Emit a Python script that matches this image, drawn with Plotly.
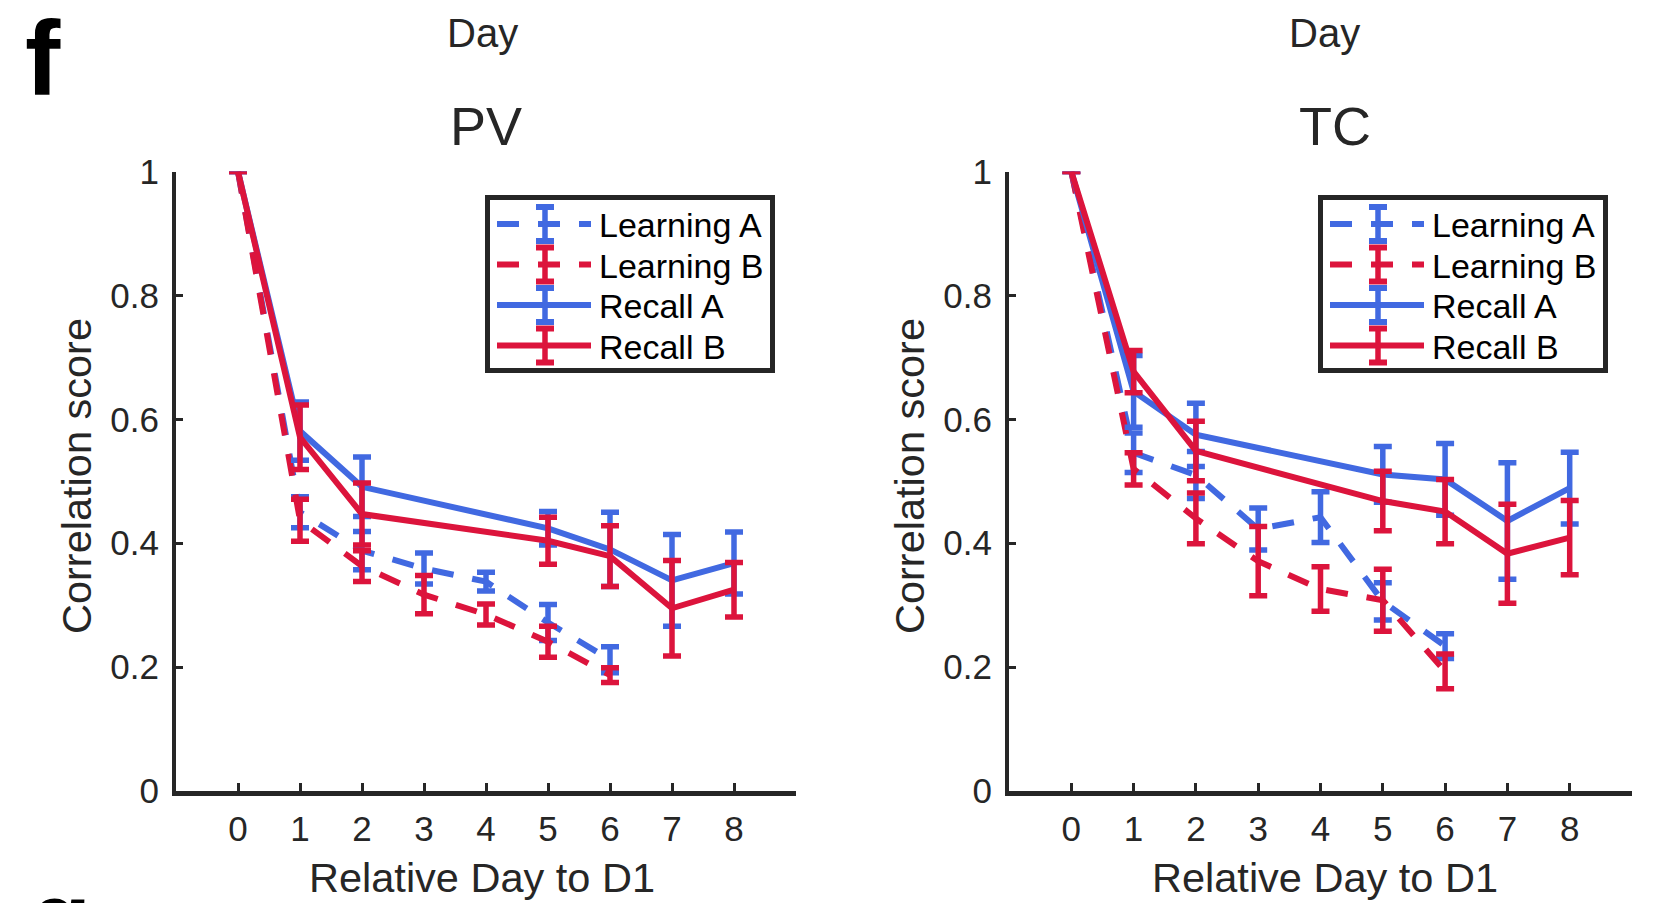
import plotly.graph_objects as go

W, H = 1660, 903

# ---------------- data ----------------
learn_days = [0, 1, 2, 3, 4, 5, 6]
recall_days = [0, 1, 2, 5, 6, 7, 8]
x_ticks = [0, 1, 2, 3, 4, 5, 6, 7, 8]
y_ticks = [0, 0.2, 0.4, 0.6, 0.8, 1]
y_ticktext = ["0", "0.2", "0.4", "0.6", "0.8", "1"]

series_names = ["Learning A", "Learning B", "Recall A", "Recall B"]
series_colors = ["#4169E1", "#DC143C", "#4169E1", "#DC143C"]
series_dash = ["22px,19px", "22px,19px", "solid", "solid"]

# PV
pv_learn_a = [1.0, 0.450, 0.388, 0.359, 0.338, 0.272, 0.212]
pv_learn_a_err = [0, 0.025, 0.031, 0.025, 0.015, 0.029, 0.021]
pv_learn_b = [1.0, 0.437, 0.363, 0.317, 0.285, 0.241, 0.187]
pv_learn_b_err = [0, 0.034, 0.025, 0.031, 0.017, 0.025, 0.012]
pv_recall_a = [1.0, 0.581, 0.491, 0.424, 0.390, 0.340, 0.368]
pv_recall_a_err = [0, 0.047, 0.048, 0.027, 0.060, 0.074, 0.050]
pv_recall_b = [1.0, 0.571, 0.447, 0.404, 0.379, 0.295, 0.325]
pv_recall_b_err = [0, 0.052, 0.050, 0.038, 0.049, 0.077, 0.044]

# TC
tc_learn_a = [1.0, 0.546, 0.510, 0.423, 0.442, 0.306, 0.234]
tc_learn_a_err = [0, 0.032, 0.038, 0.034, 0.041, 0.030, 0.020]
tc_learn_b = [1.0, 0.520, 0.440, 0.371, 0.326, 0.308, 0.193]
tc_learn_b_err = [0, 0.026, 0.041, 0.056, 0.036, 0.050, 0.028]
tc_recall_a = [1.0, 0.645, 0.575, 0.511, 0.503, 0.436, 0.489]
tc_recall_a_err = [0, 0.058, 0.051, 0.045, 0.058, 0.094, 0.058]
tc_recall_b = [1.0, 0.677, 0.549, 0.468, 0.451, 0.383, 0.409]
tc_recall_b_err = [0, 0.034, 0.048, 0.048, 0.052, 0.080, 0.060]

panel_titles = ["PV", "TC"]
panel_label = "f"

# ---------------- helpers ----------------
FONT = "Liberation Sans, Arial, Helvetica, sans-serif"
AX = "#262626"


def px_x(p):
    return p / W


def px_y(p):
    return 1 - p / H


# subplot geometry (px)
panels = [
    dict(left=176, right=796, xa="x", ya="y", xaxis="xaxis", yaxis="yaxis"),
    dict(left=1009, right=1632, xa="x2", ya="y2", xaxis="xaxis2", yaxis="yaxis2"),
]
TOP, BOTTOM = 171.5, 791

panel_data = [
    [(learn_days, pv_learn_a, pv_learn_a_err), (learn_days, pv_learn_b, pv_learn_b_err),
     (recall_days, pv_recall_a, pv_recall_a_err), (recall_days, pv_recall_b, pv_recall_b_err)],
    [(learn_days, tc_learn_a, tc_learn_a_err), (learn_days, tc_learn_b, tc_learn_b_err),
     (recall_days, tc_recall_a, tc_recall_a_err), (recall_days, tc_recall_b, tc_recall_b_err)],
]

fig = go.Figure()
for p, series in zip(panels, panel_data):
    for (xs, ys, es), name, col, dash in zip(series, series_names, series_colors, series_dash):
        fig.add_trace(go.Scatter(
            x=xs, y=ys, name=name, mode="lines",
            line=dict(color=col, width=6, dash=dash),
            error_y=dict(type="data", array=es, visible=True, color=col,
                         thickness=5.5, width=9),
            xaxis=p["xa"], yaxis=p["ya"], showlegend=False, cliponaxis=False,
        ))

shapes = []
annotations = []
layout_axes = {}
for i, p in enumerate(panels):
    layout_axes[p["xaxis"]] = dict(
        domain=[px_x(p["left"]), px_x(p["right"])], range=[-1, 9],
        anchor=p["ya"], showline=True, linecolor=AX, linewidth=5,
        ticks="inside", ticklen=8, tickwidth=3, tickcolor=AX,
        tickvals=x_ticks, showgrid=False, zeroline=False, automargin=False,
        tickfont=dict(family=FONT, size=35, color=AX), ticklabelstandoff=3,
    )
    layout_axes[p["yaxis"]] = dict(
        domain=[px_y(BOTTOM), px_y(TOP)], range=[0, 1],
        anchor=p["xa"], showline=True, linecolor=AX, linewidth=4,
        ticks="inside", ticklen=7, tickwidth=3, tickcolor=AX,
        tickvals=y_ticks, ticktext=y_ticktext, showgrid=False, zeroline=False,
        automargin=False,
        tickfont=dict(family=FONT, size=35, color=AX), ticklabelstandoff=6,
    )
    cx = (p["left"] + p["right"]) / 2 - 4 + (8 if i == 1 else 0)
    annotations += [
        dict(text="Day", x=px_x(cx), y=px_y(33), xref="paper", yref="paper",
             showarrow=False, font=dict(family=FONT, size=40, color=AX),
             xanchor="center", yanchor="middle"),
        dict(text=panel_titles[i], x=px_x(cx + 4 + (6 if i == 1 else 0)), y=px_y(126),
             xref="paper", yref="paper", showarrow=False,
             font=dict(family=FONT, size=54, color=AX), xanchor="center", yanchor="middle"),
        dict(text="Relative Day to D1", x=px_x(cx), y=px_y(877), xref="paper", yref="paper",
             showarrow=False, font=dict(family=FONT, size=41.5, color=AX),
             xanchor="center", yanchor="middle"),
        dict(text="Correlation score", x=px_x(p["left"] - 100), y=px_y(476), xref="paper",
             yref="paper", textangle=-90, showarrow=False,
             font=dict(family=FONT, size=41.5, color=AX), xanchor="center", yanchor="middle"),
    ]

    # legend (drawn box, sample lines, error glyphs, labels)
    off = p["left"] - 176
    shapes.append(dict(type="rect", xref="paper", yref="paper",
                       x0=px_x(487.5 + off), x1=px_x(772.5 + off),
                       y0=px_y(197.5), y1=px_y(370.5),
                       line=dict(color=AX, width=5), fillcolor="white", layer="above"))
    for k, (name, col, dash) in enumerate(zip(series_names, series_colors, series_dash)):
        ry = 224 + 40.5 * k
        shapes.append(dict(type="line", xref="paper", yref="paper",
                           x0=px_x(497 + off), x1=px_x(591 + off), y0=px_y(ry), y1=px_y(ry),
                           line=dict(color=col, width=6, dash=dash), layer="above"))
        gx = 545 + off
        shapes.append(dict(type="line", xref="paper", yref="paper",
                           x0=px_x(gx), x1=px_x(gx), y0=px_y(ry - 17), y1=px_y(ry + 17),
                           line=dict(color=col, width=5.5), layer="above"))
        for cy in (ry - 17, ry + 17):
            shapes.append(dict(type="line", xref="paper", yref="paper",
                               x0=px_x(gx - 9), x1=px_x(gx + 9), y0=px_y(cy), y1=px_y(cy),
                               line=dict(color=col, width=6), layer="above"))
        annotations.append(dict(text=name, x=px_x(597 + off), y=px_y(ry + 1),
                                xref="paper", yref="paper", showarrow=False,
                                font=dict(family=FONT, size=34, color="black"),
                                xanchor="left", yanchor="middle"))

annotations.append(dict(text="<b>%s</b>" % panel_label, x=px_x(23), y=px_y(58),
                        xref="paper", yref="paper", showarrow=False,
                        font=dict(family=FONT, size=106, color="black"),
                        xanchor="left", yanchor="middle"))
annotations.append(dict(text="<b>g</b>", x=px_x(28), y=px_y(918),
                        xref="paper", yref="paper", showarrow=False,
                        font=dict(family=FONT, size=100, color="black"),
                        xanchor="left", yanchor="middle"))

fig.update_layout(
    template="none",
    width=W, height=H, margin=dict(l=0, r=0, t=0, b=0, pad=0),
    paper_bgcolor="white", plot_bgcolor="white",
    showlegend=False, shapes=shapes, annotations=annotations,
    **layout_axes,
)

fig.write_html("out.html")
